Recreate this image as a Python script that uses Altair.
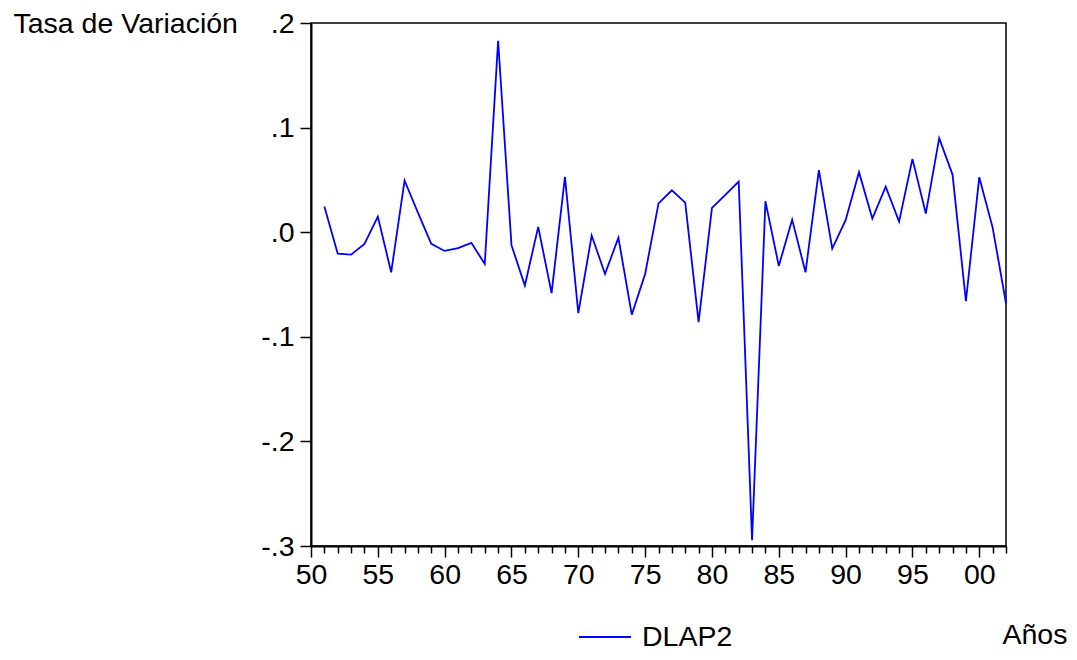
import altair as alt
import pandas as pd

years = list(range(1951, 2003))
dlap2 = [0.0245, -0.0205, -0.0214, -0.0112, 0.0149, -0.0383, 0.0494, 0.0188, -0.0112, -0.0179,
         -0.0153, -0.0102, -0.0303, 0.1829, -0.0124, -0.0510, 0.0051, -0.0583, 0.0529, -0.0774,
         -0.0032, -0.0399, -0.0052, -0.0788, -0.0399, 0.0275, 0.0401, 0.0283, -0.0860, 0.0232,
         0.0357, 0.0484, -0.2945, 0.0296, -0.0322, 0.0120, -0.0383, 0.0593, -0.0157, 0.0115,
         0.0574, 0.0130, 0.0436, 0.0101, 0.0701, 0.0178, 0.0899, 0.0551, -0.0660, 0.0526,
         0.0044, -0.0679]
series_name = "DLAP2"
y_ticks = [-0.3, -0.2, -0.1, 0.0, 0.1, 0.2]
x_ticks = list(range(1950, 2003))

df = pd.DataFrame({"year": years, "value": dlap2, "serie": [series_name] * len(years)})

FONT = "Liberation Sans"
FS = 28.5

chart = alt.Chart(df).mark_line(color="#0000ff", strokeWidth=1.8).encode(
    x=alt.X(
        "year:Q",
        scale=alt.Scale(domain=[1950, 2002], nice=False, zero=False),
        axis=alt.Axis(
            values=x_ticks,
            labelExpr="datum.value % 5 === 0 ? ((datum.value % 100 < 10 ? '0' : '') + (datum.value % 100)) : ''",
            tickSize={"condition": {"test": "datum.value % 5 === 0", "value": 11}, "value": 7},
            tickWidth=1.5,
            tickColor="black",
            domainColor="black",
            domainWidth=2,
            labelFont=FONT,
            labelFontSize=FS,
            labelColor="black",
            labelPadding=3,
            labelOverlap=False,
            labelFlush=False,
            grid=False,
            title="Años",
            titleFont=FONT,
            titleFontSize=FS,
            titleFontWeight="normal",
            titleColor="black",
            titleX=691,
            titleY=88,
            titleAlign="left",
            titleBaseline="middle",
        ),
    ),
    y=alt.Y(
        "value:Q",
        scale=alt.Scale(domain=[-0.3, 0.2], nice=False, zero=False),
        axis=alt.Axis(
            values=y_ticks,
            labelExpr="datum.value < -0.0001 ? '-.' + round(abs(datum.value) * 10) : '.' + round(datum.value * 10)",
            tickSize=11,
            tickWidth=1.5,
            tickColor="black",
            domainColor="black",
            domainWidth=2,
            labelFont=FONT,
            labelFontSize=FS,
            labelColor="black",
            labelPadding=6,
            labelFlush=False,
            labelOverlap=False,
            grid=False,
            title="Tasa de Variación",
            titleFont=FONT,
            titleFontSize=FS,
            titleFontWeight="normal",
            titleColor="black",
            titleAngle=0,
            titleX=-298,
            titleY=0,
            titleAlign="left",
            titleBaseline="middle",
        ),
    ),
    color=alt.Color(
        "serie:N",
        scale=alt.Scale(domain=[series_name], range=["#0000ff"]),
        legend=alt.Legend(
            title=None,
            orient="none",
            legendX=267,
            legendY=587,
            symbolType="stroke",
            symbolSize=2704,
            symbolStrokeWidth=1.8,
            labelFont=FONT,
            labelFontSize=FS,
            labelColor="black",
            labelOffset=10,
        ),
    ),
).properties(
    width=695,
    height=523,
    autosize=alt.AutoSizeParams(type="none"),
    padding={"left": 303, "top": 15, "right": 62, "bottom": 106},
    background="white",
).configure_view(
    stroke="black",
    strokeWidth=1.5,
)

chart.save("out.html", embed_options={"renderer": "svg", "actions": False})
